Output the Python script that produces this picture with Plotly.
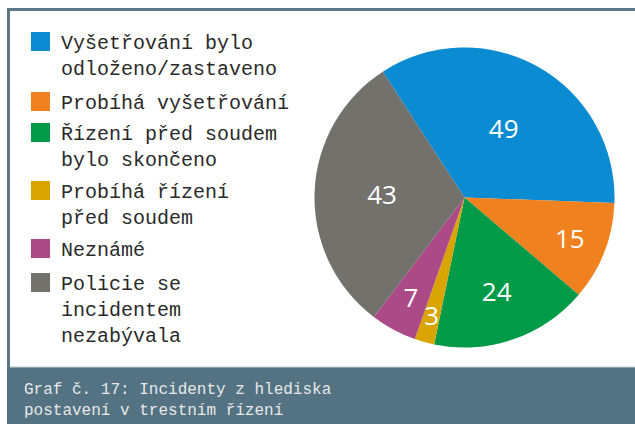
import plotly.graph_objects as go

labels = [
    "Vyšetřování bylo<br>odloženo/zastaveno",
    "Probíhá vyšetřování",
    "Řízení před soudem<br>bylo skončeno",
    "Probíhá řízení<br>před soudem",
    "Neznámé",
    "Policie se<br>incidentem<br>nezabývala",
]
values = [49, 15, 24, 3, 7, 43]
colors = ["#0a8bd2", "#ef821f", "#009a49", "#d8a500", "#ab4a86", "#72716c"]
title_lines = ["Graf č. 17: Incidenty z hlediska", "postavení v trestním řízení"]

W, H = 635, 424
SMALL = 10  # slices below this value get their label from the inner text layer


def px(x):
    return x / W


def py(y):
    return 1 - y / H


cx, cy, R = 464.5, 197.5, 150
r_in = R * 0.87

big_text = [str(v) if v >= SMALL else "" for v in values]
small_text = [str(v) if v < SMALL else "" for v in values]

common = dict(
    labels=labels, values=values, sort=False, direction="clockwise",
    rotation=-33, textinfo="text", textposition="inside",
    insidetextorientation="horizontal",
    textfont=dict(family="Open Sans", size=26, color="white"),
    showlegend=False,
)

fig = go.Figure()
fig.add_trace(go.Pie(
    **common,
    text=big_text,
    marker=dict(colors=colors, line=dict(width=0)),
    domain=dict(x=[px(cx - R), px(cx + R)], y=[py(cy + R), py(cy - R)]),
    hoverinfo="label+value",
))
fig.add_trace(go.Pie(
    **common,
    text=small_text,
    marker=dict(colors=["rgba(0,0,0,0)"] * len(values), line=dict(width=0)),
    domain=dict(x=[px(cx - r_in), px(cx + r_in)], y=[py(cy + r_in), py(cy - r_in)]),
    hoverinfo="skip",
))

shapes = [
    dict(type="rect", xref="paper", yref="paper",
         x0=px(8.5), x1=px(660), y0=py(9.5), y1=py(440),
         line=dict(color="#587787", width=3), fillcolor="white", layer="below"),
    dict(type="rect", xref="paper", yref="paper",
         x0=px(7), x1=px(640), y0=py(367), y1=py(430),
         line=dict(width=0), fillcolor="#537282", layer="below"),
    dict(type="line", xref="paper", yref="paper",
         x0=px(10), x1=px(640), y0=py(367), y1=py(367),
         line=dict(color="#c9d2d6", width=1), layer="below"),
]

annotations = []
item_tops = [32, 92, 123, 181, 239, 273]
for lab, col, top in zip(labels, colors, item_tops):
    shapes.append(dict(type="rect", xref="paper", yref="paper",
                       x0=px(31), x1=px(50), y0=py(top), y1=py(top + 19),
                       line=dict(width=0), fillcolor=col))
    annotations.append(dict(
        text=lab, x=px(59), y=py(top - 2), xref="paper", yref="paper",
        xanchor="left", yanchor="top", align="left", showarrow=False,
        font=dict(family="Liberation Mono", size=20, color="#2a2a2a"),
    ))

annotations.append(dict(
    text="<br>".join(title_lines), x=px(22), y=py(379), xref="paper", yref="paper",
    xanchor="left", yanchor="top", align="left", showarrow=False,
    font=dict(family="Liberation Mono", size=16, color="#e8e8e8"),
))

fig.update_layout(
    width=W, height=H,
    margin=dict(l=0, r=0, t=0, b=0),
    paper_bgcolor="white",
    plot_bgcolor="white",
    shapes=shapes,
    annotations=annotations,
    uniformtext=dict(minsize=26, mode="show"),
)

fig.write_html(
    "out.html",
    config={"displayModeBar": False},
    post_script="document.body.style.margin='0px';",
)
